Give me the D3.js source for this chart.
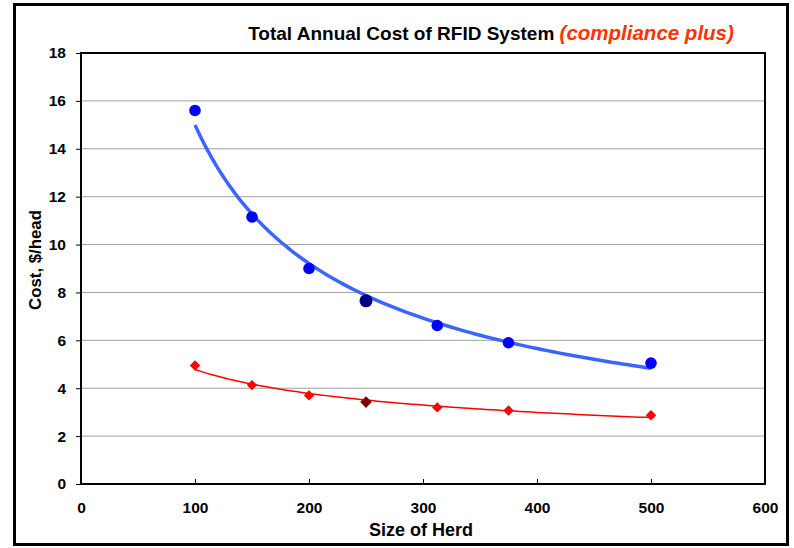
<!DOCTYPE html>
<html><head><meta charset="utf-8">
<script src="https://cdn.jsdelivr.net/npm/d3@7"></script>
<style>body{margin:0;background:#fff}svg{display:block}text{font-family:Arial,"Liberation Sans",sans-serif;font-weight:bold}</style>
</head><body><svg id="c" width="794" height="548"></svg>
<script>
const herdSize = [100, 150, 200, 250, 312.5, 375, 500];
const costBasic = [15.6, 11.15, 9.0, 7.65, 6.62, 5.9, 5.05];
const costCompliance = [4.95, 4.13, 3.7, 3.42, 3.2, 3.07, 2.87];
const highlightIndex = 3;
const xTicks = [0, 100, 200, 300, 400, 500, 600];
const yTicks = [0, 2, 4, 6, 8, 10, 12, 14, 16, 18];

const svg = d3.select("#c");
// outer frame
svg.append("rect").attr("x",14.5).attr("y",4.5).attr("width",773).attr("height",540).attr("fill","none").attr("stroke","#000").attr("stroke-width",3);

const x = d3.scaleLinear().domain([0,600]).range([81,765]);
const y = d3.scaleLinear().domain([0,18]).range([484,53]);

// gridlines
svg.append("g").selectAll("line").data(yTicks.filter(d=>d>0&&d<18)).join("line")
  .attr("x1",x(0)).attr("x2",x(600)).attr("y1",d=>y(d)).attr("y2",d=>y(d))
  .attr("stroke","#a0a0a0").attr("stroke-width",1);

// plot border
svg.append("rect").attr("x",x(0)).attr("y",y(18)).attr("width",x(600)-x(0)).attr("height",y(0)-y(18))
  .attr("fill","none").attr("stroke","#000").attr("stroke-width",2);

const xAxis = svg.append("g").attr("transform",`translate(0,${y(0)})`)
  .call(d3.axisBottom(x).tickValues(xTicks).tickSize(5).tickPadding(13));
const yAxis = svg.append("g").attr("transform",`translate(${x(0)},0)`)
  .call(d3.axisLeft(y).tickValues(yTicks).tickSize(5).tickPadding(10));
[xAxis,yAxis].forEach(a=>{
  a.select(".domain").remove();
  a.selectAll("line").attr("stroke","#000").attr("stroke-width",1);
  a.selectAll("text").attr("font-size",15.5).attr("font-weight","bold").attr("fill","#000")
   .attr("font-family","Arial, 'Liberation Sans', sans-serif");
});
xAxis.selectAll(".tick line").attr("y1",-5).attr("y2",0);
yAxis.selectAll(".tick line").attr("x1",-5).attr("x2",0);

// power fit trendlines
function powerFit(xs, ys){
  const lx = xs.map(Math.log), ly = ys.map(Math.log), n = xs.length;
  const mx = d3.mean(lx), my = d3.mean(ly);
  let sxy=0,sxx=0; for(let i=0;i<n;i++){sxy+=(lx[i]-mx)*(ly[i]-my);sxx+=(lx[i]-mx)**2;}
  const b = sxy/sxx, a = Math.exp(my-b*mx);
  return v=>a*Math.pow(v,b);
}
const xs = d3.range(100,501,5);
const line = d3.line().x(d=>x(d[0])).y(d=>y(d[1]));
const fB = powerFit(herdSize,costBasic), fC = powerFit(herdSize,costCompliance);
svg.append("path").attr("d",line(xs.map(v=>[v,fB(v)]))).attr("fill","none").attr("stroke","#3a66ff").attr("stroke-width",3.5);
svg.append("path").attr("d",line(xs.map(v=>[v,fC(v)]))).attr("fill","none").attr("stroke","#ff0000").attr("stroke-width",1.5);

// markers
svg.append("g").selectAll("circle").data(herdSize).join("circle")
  .attr("cx",d=>x(d)).attr("cy",(d,i)=>y(costBasic[i]))
  .attr("r",(d,i)=>i===highlightIndex?6.5:5.8)
  .attr("fill",(d,i)=>i===highlightIndex?"#000080":"#0000ff");
svg.append("g").selectAll("path").data(herdSize).join("path")
  .attr("d",(d,i)=>{const s=i===highlightIndex?5.8:5.2;return `M0,${-s}L${s},0L0,${s}L${-s},0Z`;})
  .attr("transform",(d,i)=>`translate(${x(d)},${y(costCompliance[i])})`)
  .attr("fill",(d,i)=>i===highlightIndex?"#800000":"#ff0000");

// title
const t = svg.append("text").attr("x",491).attr("y",40).attr("text-anchor","middle");
t.append("tspan").attr("font-size",19).attr("fill","#000").text("Total Annual Cost of RFID System ");
t.append("tspan").attr("font-size",20.5).attr("font-style","italic").attr("fill","#ff3300").text("(compliance plus)");

// axis titles
svg.append("text").attr("x",421).attr("y",536).attr("text-anchor","middle").attr("font-size",18).text("Size of Herd");
svg.append("text").attr("transform",`translate(41,260) rotate(-90)`).attr("text-anchor","middle").attr("font-size",16.8).text("Cost, $/head");
</script></body></html>
